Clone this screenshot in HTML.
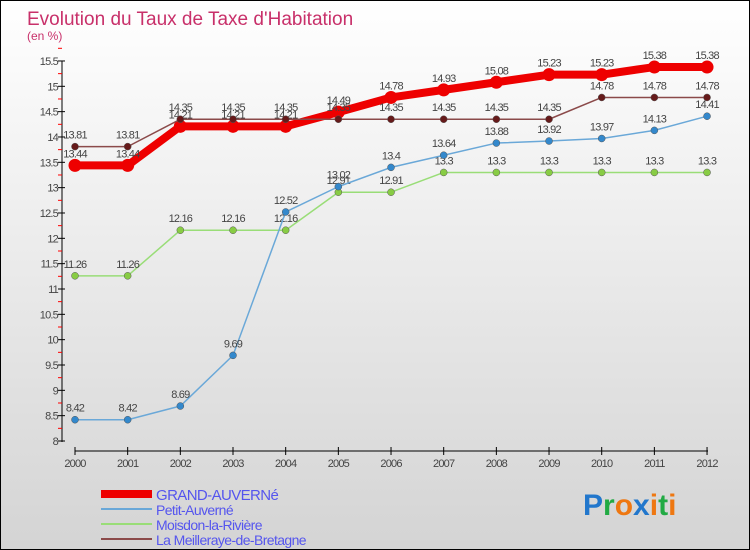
<!DOCTYPE html>
<html><head><meta charset="utf-8"><style>
body{margin:0}
#c{position:relative;width:748px;height:548px;border:1px solid #000;background:linear-gradient(#fff,#d4d4d4);overflow:hidden;font-family:"Liberation Sans",sans-serif}
</style></head><body>
<div id="c">
<svg id="s" width="748" height="548"></svg>
</div>
<script>
const years=[2000,2001,2002,2003,2004,2005,2006,2007,2008,2009,2010,2011,2012];
const grand=[13.44,13.44,14.21,14.21,14.21,14.49,14.78,14.93,15.08,15.23,15.23,15.38,15.38];
const petit=[8.42,8.42,8.69,9.69,12.52,13.02,13.4,13.64,13.88,13.92,13.97,14.13,14.41];
const moisdon=[11.26,11.26,12.16,12.16,12.16,12.91,12.91,13.3,13.3,13.3,13.3,13.3,13.3];
const meill=[13.81,13.81,14.35,14.35,14.35,14.35,14.35,14.35,14.35,14.35,14.78,14.78,14.78];
const yTicks=[8,8.5,9,9.5,10,10.5,11,11.5,12,12.5,13,13.5,14,14.5,15,15.5];
const names=["GRAND-AUVERNé","Petit-Auverné","Moisdon-la-Rivière","La Meilleraye-de-Bretagne"];
const NS="http://www.w3.org/2000/svg",svg=document.getElementById('s');
function X(i){return 74+i*52.67}
function Y(v){return 440-(v-8)*50.67}
function el(t,a,p){const e=document.createElementNS(NS,t);for(const k in a)e.setAttribute(k,a[k]);(p||svg).appendChild(e);return e}
function tx(x,y,s,a){const e=el('text',Object.assign({x:x,y:y},a));e.textContent=s;return e}
let t=tx(26,24,"Evolution du Taux de Taxe d'Habitation",{'font-size':19,fill:'#c8306a'});

t=tx(26,39,"(en %)",{'font-size':12,fill:'#c8306a'});

let ax=el('line',{x1:61,y1:60,x2:61,y2:441,stroke:'#000'});

yTicks.forEach(v=>{el('line',{x1:57,x2:64,y1:Y(v),y2:Y(v),stroke:'#000'});
 el('line',{x1:57,x2:61,y1:Y(v+0.25),y2:Y(v+0.25),stroke:'red'});
 t=tx(57,Y(v)+4,String(v),{'font-size':11,fill:'#444','text-anchor':'end','letter-spacing':'-0.8'});
 });
ax=el('line',{x1:74,y1:450,x2:707,y2:450,stroke:'#000'});

years.forEach((y,i)=>{el('line',{x1:X(i),x2:X(i),y1:446,y2:454,stroke:'#000'});
 t=tx(X(i),466,String(y),{'font-size':11,fill:'#444','text-anchor':'middle','letter-spacing':'-0.8'});
 });
function series(d,col,w,r,name,fill){
 const g=el('g',{});
 el('polyline',{points:d.map((v,i)=>X(i)+','+Y(v)).join(' '),fill:'none',stroke:col,'stroke-width':w,'stroke-linejoin':'round'},g);
 d.forEach((v,i)=>{const c=el('circle',{cx:X(i),cy:Y(v),r:r,fill:fill,stroke:w>3?'none':'#555','stroke-width':0.5},g);
  
  tx(X(i),Y(v)-8,String(v),{'font-size':11,fill:'#444','text-anchor':'middle','letter-spacing':'-0.8'},g);});
}
series(moisdon,'#99dd77',1.5,3.5,'series-moisdon','#88cc44');
series(petit,'#6aa8d8',1.5,3.5,'series-petit-auverne','#3388cc');
series(grand,'#ee0000',8,6.5,'series-grand-auverne','#ee0000');
series(meill,'#8b4a4a',1.5,3.5,'series-meilleraye','#661a1a');
const cols=['#ee0000','#6aa8d8','#99dd77','#8b4a4a'];
names.forEach((n,i)=>{const y=493+i*15;const g=el('g',{});
 
 el('line',{x1:100,x2:151,y1:y,y2:y,stroke:cols[i],'stroke-width':i?2:8},g);
 tx(155,y+6,n,{'font-size':i?14:15,fill:'#5555ee','letter-spacing':'-0.6'},g);});
const logo=el('text',{x:582,y:514,'font-size':30,'font-weight':'bold'});

[['P','#2277cc'],['r','#22aa44'],['o','#ee7711'],['x','#2277cc'],['i','#ee7711'],['t','#22aa44'],['i','#ee7711']].forEach(([c,f])=>{el('tspan',{fill:f},logo).textContent=c;});
</script>
</body></html>
